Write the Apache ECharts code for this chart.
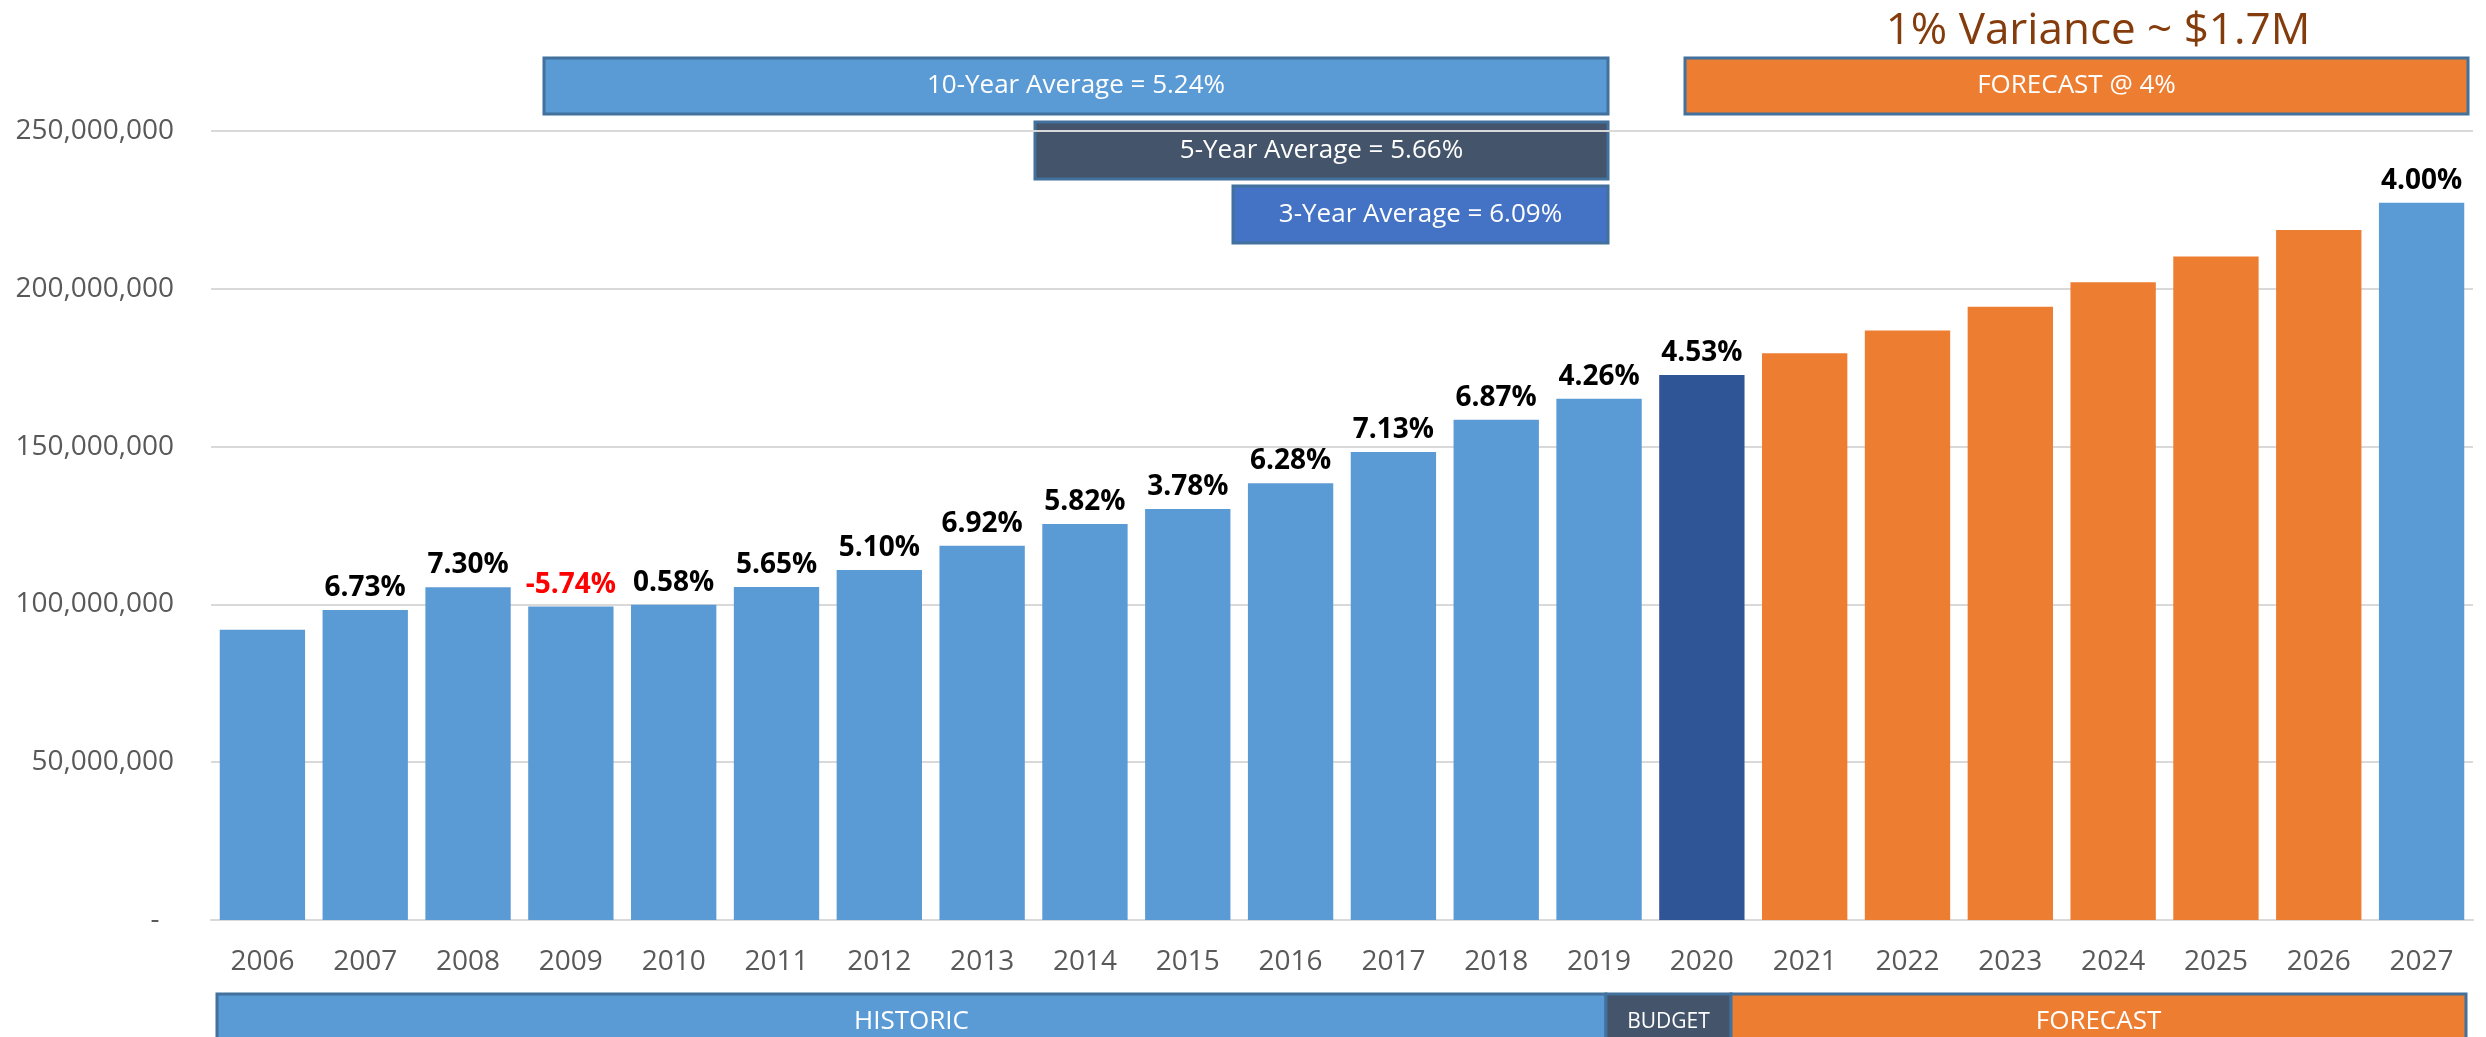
<!DOCTYPE html>
<html>
<head>
<meta charset="utf-8">
<title>Revenue history and forecast</title>
<script src="https://cdn.jsdelivr.net/npm/echarts@6/dist/echarts.min.js"></script>
<style>
  html, body { margin: 0; padding: 0; background: #fff; }
  #main { width: 2486px; height: 1037px; }
</style>
</head>
<body>
<div id="main"></div>
<script>
// categories
var years = ['2006', '2007', '2008', '2009', '2010', '2011', '2012', '2013', '2014', '2015', '2016',
    '2017', '2018', '2019', '2020', '2021', '2022', '2023', '2024', '2025', '2026', '2027'];
// bar values
var amounts = [92000000, 98200000, 105400000, 99300000, 99900000, 105500000, 110900000, 118600000,
    125500000, 130200000, 138400000, 148300000, 158500000, 165200000, 172700000, 179600000,
    186800000, 194300000, 202100000, 210200000, 218600000, 227300000];
// growth labels above the bars
var growth = ['', '6.73%', '7.30%', '-5.74%', '0.58%', '5.65%', '5.10%', '6.92%', '5.82%', '3.78%',
    '6.28%', '7.13%', '6.87%', '4.26%', '4.53%', '', '', '', '', '', '', '4.00%'];
// which part of the chart each year belongs to
var phases = ['hist', 'hist', 'hist', 'hist', 'hist', 'hist', 'hist', 'hist', 'hist', 'hist', 'hist',
    'hist', 'hist', 'hist', 'budget', 'fcst', 'fcst', 'fcst', 'fcst', 'fcst', 'fcst', 'hist'];
// y tick values
var yTicks = [0, 50000000, 100000000, 150000000, 200000000, 250000000];

var FONT = "'Open Sans', 'Noto Sans', sans-serif";
var phaseColor = { hist: '#5B9BD5', budget: '#2F5597', fcst: '#ED7D31' };

// annotation box (rect + centered text)
function box(x, y, w, h, fill, text, size) {
    return {
        type: 'group',
        children: [{
            type: 'rect',
            shape: { x: x, y: y, width: w, height: h },
            style: { fill: fill, stroke: '#41719C', lineWidth: 3 }
        }, {
            type: 'text',
            x: x + w / 2,
            y: y + h / 2,
            style: {
                text: text, fill: '#fff', font: size + 'px ' + FONT,
                textAlign: 'center', textVerticalAlign: 'middle'
            }
        }]
    };
}

var myChart = echarts.init(document.getElementById('main'));

var barData = [];
for (var i = 0; i < amounts.length; i++) {
    barData.push({
        value: amounts[i],
        itemStyle: { color: phaseColor[phases[i]] },
        label: {
            show: growth[i] !== '',
            formatter: growth[i],
            color: growth[i].charAt(0) === '-' ? '#FF0000' : '#000'
        }
    });
}

var option = {
    animation: false,
    backgroundColor: '#fff',
    title: {
        text: '1% Variance ~ $1.7M',
        left: 2093,
        top: 4,
        textAlign: 'center',
        textStyle: { color: '#843C0C', fontSize: 44, fontWeight: 'normal', fontFamily: FONT }
    },
    grid: { left: 211, right: 13, top: 131, bottom: 117, containLabel: false, outerBoundsMode: 'none' },
    xAxis: {
        type: 'category',
        data: years,
        axisTick: { show: false },
        axisLine: { lineStyle: { color: '#D9D9D9', width: 2 } },
        axisLabel: { color: '#595959', fontSize: 28, fontFamily: FONT, margin: 28, interval: 0 }
    },
    yAxis: {
        type: 'value',
        min: yTicks[0],
        max: yTicks[yTicks.length - 1],
        interval: yTicks[1] - yTicks[0],
        axisLine: { show: false },
        axisTick: { show: false },
        splitLine: { lineStyle: { color: '#D9D9D9', width: 2 } },
        axisLabel: {
            color: '#595959', fontSize: 28, fontFamily: FONT, margin: 37,
            formatter: function (v) {
                return v === 0 ? '-  ' : v.toLocaleString('en-US');
            }
        }
    },
    series: [{
        type: 'bar',
        data: barData,
        barCategoryGap: '17%',
        label: {
            show: true,
            position: 'top',
            distance: 8,
            fontSize: 28,
            fontWeight: 'bold',
            fontFamily: FONT
        }
    }],
    graphic: [
        box(544, 58, 1064, 56, '#5B9BD5', '10-Year Average = 5.24%', 26),
        box(1035, 122, 573, 57, '#44546A', '5-Year Average = 5.66%', 26),
        box(1233, 186, 375, 57, '#4472C4', '3-Year Average = 6.09%', 26),
        box(1685, 58, 783, 56, '#ED7D31', 'FORECAST @ 4%', 26),
        box(217, 994, 1389, 56, '#5B9BD5', 'HISTORIC', 26),
        box(1606, 994, 125, 56, '#44546A', 'BUDGET', 21),
        box(1731, 994, 735, 56, '#ED7D31', 'FORECAST', 26)
    ]
};

myChart.setOption(option);
</script>
</body>
</html>
